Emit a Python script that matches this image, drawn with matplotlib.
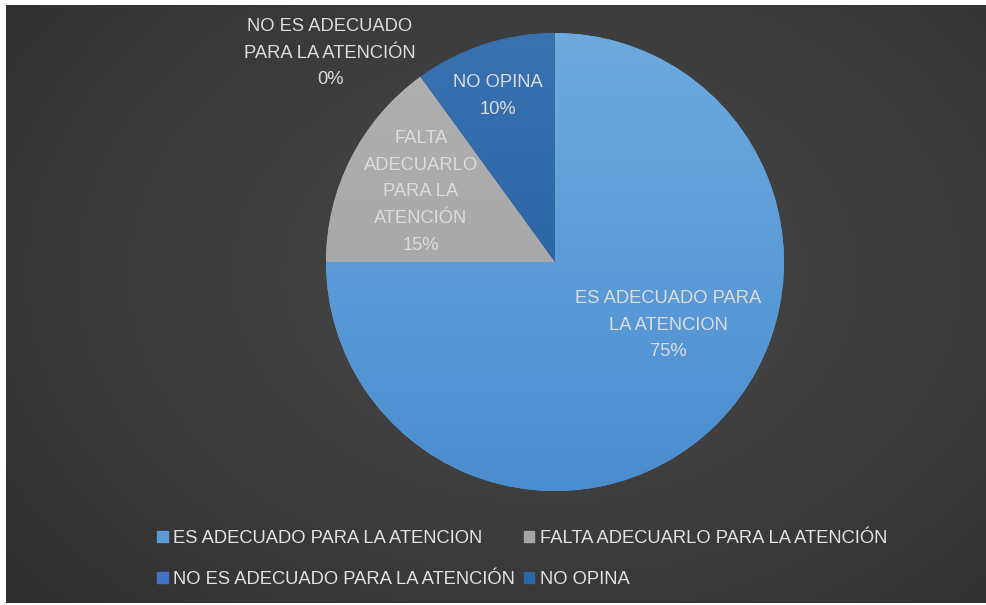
"""Pie chart: opinion on whether the space is adequate for attention."""
import numpy as np
import matplotlib
matplotlib.use("Agg")
import matplotlib.pyplot as plt
from matplotlib.patches import Rectangle

# --- Data ---
CATEGORIES = [
    "ES ADECUADO PARA LA ATENCION",
    "FALTA ADECUARLO PARA LA ATENCIÓN",
    "NO ES ADECUADO PARA LA ATENCIÓN",
    "NO OPINA",
]
PERCENTS = [75, 15, 0, 10]
SLICE_LABELS = [
    "ES ADECUADO PARA\nLA ATENCION",
    "FALTA\nADECUARLO\nPARA LA\nATENCIÓN",
    "NO ES ADECUADO\nPARA LA ATENCIÓN",
    "NO OPINA",
]

# --- Style ---
COLORS = ["#5b9bd5", "#a5a5a5", "#4472c4", "#2a66aa"]
# (top colour, bottom colour) for the slice gradients
GRADIENTS = [("#6eaade", "#4a8dd0"), ("#b0b0b0", "#a2a2a2"),
             ("#4472c4", "#4472c4"), ("#3a72b0", "#1d5a9e")]
TEXT = "#dcdcdc"
FONT = ["Liberation Sans", "DejaVu Sans"]

W, H = 987, 605
CX, CY, R = 555, H - 262, 229
# label centre positions in pixel coords (x, y from top)
LABEL_POS = [(668, 325), (421, 192), (330, 53), (498, 96)]


def hex2rgb(h):
    h = h.lstrip("#")
    return np.array([int(h[i:i + 2], 16) / 255 for i in (0, 2, 4)])


fig = plt.figure(figsize=(W / 100, H / 100), dpi=100, facecolor="white")

# dark background with soft radial shading
bg = fig.add_axes([6 / W, 2 / H, 980 / W, 598 / H])
yy, xx = np.mgrid[0:1:300j, 0:1:500j]
d = np.sqrt(((xx - 0.55) / 0.75) ** 2 + ((yy - 0.45) / 0.9) ** 2)
shade = np.clip(0.29 - 0.11 * d, 0.165, 0.29)
bg.imshow(np.dstack([shade] * 3), aspect="auto", extent=(0, 1, 0, 1))
bg.set_axis_off()

ax = fig.add_axes([0, 0, 1, 1])
ax.patch.set_alpha(0)

wedges, _ = ax.pie(
    PERCENTS,
    colors=COLORS,
    startangle=90,
    counterclock=False,
    center=(CX, CY),
    radius=R,
    frame=True,
    wedgeprops=dict(linewidth=0),
)
ax.set_xlim(0, W)
ax.set_ylim(0, H)
ax.set_aspect("equal")
ax.set_axis_off()

# vertical gradient fill clipped to each wedge
for w, (top, bot) in zip(wedges, GRADIENTS):
    t = np.linspace(0, 1, 256)[:, None]
    grad = hex2rgb(top) * (1 - t[..., None]) + hex2rgb(bot) * t[..., None]
    grad = np.repeat(grad, 2, axis=1)
    im = ax.imshow(grad, extent=(CX - R, CX + R, CY - R, CY + R),
                   origin="upper", aspect="auto", zorder=w.get_zorder())
    im.set_clip_path(w)

for (x, y), lab, p in zip(LABEL_POS, SLICE_LABELS, PERCENTS):
    ax.text(x, H - y, f"{lab}\n{p}%", ha="center", va="center",
            color=TEXT, fontsize=13.2, family=FONT, linespacing=1.75,
            zorder=5)

# legend: two rows, ordered row by row
handles = [Rectangle((0, 0), 1, 1, color=c) for c in COLORS]
order = [0, 2, 1, 3]
leg = fig.legend(
    [handles[i] for i in order],
    [CATEGORIES[i] for i in order],
    ncol=2,
    loc="center left",
    bbox_to_anchor=(141 / W, 1 - 559 / H),
    frameon=False,
    handlelength=0.55,
    handleheight=0.55,
    handletextpad=0.3,
    columnspacing=0.5,
    labelspacing=1.3,
    prop=dict(family=FONT, size=13.2),
)
for txt in leg.get_texts():
    txt.set_color("#e2e2e2")

fig.savefig("out.png", dpi=100, facecolor="white")
